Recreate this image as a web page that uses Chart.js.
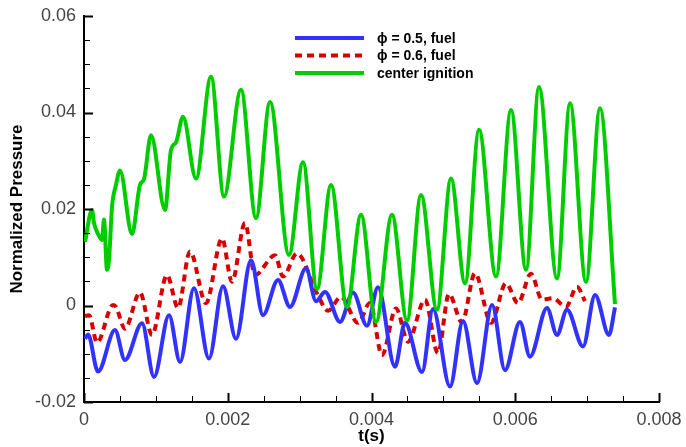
<!DOCTYPE html>
<html lang="en">
<head>
<meta charset="UTF-8">
<title>Normalized Pressure</title>
<style>
  html, body { margin: 0; padding: 0; background: #fff; }
  canvas { display: block; }
</style>
</head>
<body>
<canvas id="pressureChart" width="686" height="447"></canvas>
<script src="https://cdn.jsdelivr.net/npm/chart.js@4.4.1/dist/chart.umd.min.js"></script>
<script>
// phi = 0.5, fuel : time (s) / normalized pressure
const tLean = [0.000014, 0.000056, 0.000195, 0.000431, 0.00057, 0.000807, 0.000974, 0.001183, 0.001336, 0.00153,
  0.001739, 0.001934, 0.002115, 0.002324, 0.00249, 0.002699, 0.002866, 0.003089, 0.003228, 0.003353,
  0.003562, 0.003743, 0.003937, 0.00409, 0.004327, 0.004466, 0.004703, 0.004856, 0.005092, 0.005273,
  0.005468, 0.005677, 0.005857, 0.006066, 0.006205, 0.006442, 0.006581, 0.00672, 0.006943, 0.00711,
  0.007304, 0.007388];
const pLean = [-0.0069, -0.006, -0.0137, -0.0051, -0.0113, -0.0037, -0.0148, -0.002, -0.0117, 0.0036,
  -0.011, 0.004, -0.0069, 0.0094, -0.002, 0.0053, -0.0003, 0.0077, 0.0009, 0.0028,
  -0.0034, 0.0027, -0.0042, 0.0038, -0.0127, -0.0036, -0.0138, -0.0007, -0.0168, -0.0032,
  -0.0161, 0.0001, -0.0134, -0.0034, -0.0106, -0.0005, -0.0061, -0.0009, -0.0085, 0.0022,
  -0.0061, -0.0004];

// phi = 0.6, fuel
const tRich = [0.000014, 0.00007, 0.000181, 0.000404, 0.000445, 0.00057, 0.000779, 0.000946, 0.001155, 0.001308,
  0.001475, 0.001697, 0.00192, 0.002059, 0.00224, 0.002379, 0.002657, 0.002769, 0.002963, 0.003242,
  0.003395, 0.003576, 0.003812, 0.003979, 0.004146, 0.004341, 0.004508, 0.004744, 0.004925, 0.005078,
  0.005259, 0.00544, 0.005663, 0.005871, 0.006038, 0.006219, 0.006372, 0.006525, 0.006706, 0.006859,
  0.00697];
const pRich = [-0.0022, -0.002, -0.0077, 0.0001, -0.0003, -0.0048, 0.0027, -0.0061, 0.0063, -0.0005,
  0.0112, 0.0005, 0.0139, 0.0049, 0.0171, 0.0063, 0.0104, 0.006, 0.0108, 0.0025,
  -0.0011, 0.0018, -0.0036, 0.0005, -0.0103, -0.0006, -0.0075, 0.0012, -0.0099, 0.0024,
  -0.0035, 0.0067, -0.0036, 0.0046, 0.0005, 0.0066, 0.0012, 0.0015, -0.0003, 0.0039,
  0.0009];

// center ignition
const tCenter = [0.000014, 0.000111, 0.000139, 0.000181, 0.00025, 0.000278, 0.00032, 0.000348, 0.00039, 0.000445,
  0.000501, 0.000668, 0.000779, 0.000835, 0.000932, 0.001127, 0.00121, 0.00128, 0.001377, 0.001558,
  0.001767, 0.001948, 0.002184, 0.002393, 0.002588, 0.002852, 0.003047, 0.003242, 0.003437, 0.003659,
  0.003854, 0.004063, 0.004285, 0.004494, 0.004689, 0.004911, 0.005106, 0.005301, 0.005496, 0.005732,
  0.005941, 0.00615, 0.00633, 0.006581, 0.006762, 0.006984, 0.007179, 0.007388];
const pCenter = [0.0132, 0.0198, 0.0171, 0.0153, 0.0136, 0.0178, 0.0074, 0.0095, 0.0205, 0.025,
  0.028, 0.0148, 0.025, 0.0262, 0.0353, 0.0198, 0.0322, 0.0338, 0.0391, 0.0263,
  0.0474, 0.0226, 0.0447, 0.0181, 0.0422, 0.0105, 0.0297, 0.0034, 0.025, -0.0003,
  0.0188, -0.0034, 0.0188, -0.0031, 0.0229, -0.0009, 0.0263, 0.0046, 0.0364, 0.006,
  0.0405, 0.0074, 0.0453, 0.0056, 0.0419, 0.0049, 0.0409, 0.0003];

const seriesNames = ['\u03d5 = 0.5, fuel', '\u03d5 = 0.6, fuel', 'center ignition'];
const xTicks = [0, 0.002, 0.004, 0.006, 0.008];
const xTickLabels = ['0', '0.002', '0.004', '0.006', '0.008'];
const yTicks = [-0.02, 0, 0.02, 0.04, 0.06];
const yTickLabels = ['-0.02', '0', '0.02', '0.04', '0.06'];

const toPoints = (ts, ps) => ts.map((t, i) => ({ x: t, y: ps[i] }));

const FONT = '"Liberation Sans", Arial, Helvetica, sans-serif';

// small inward tick marks on both axes, major + minor
const innerTicks = {
  id: 'innerTicks',
  afterDraw(chart) {
    const { ctx, chartArea: a, scales: { x, y } } = chart;
    ctx.save();
    ctx.strokeStyle = '#000';
    for (let k = 0; k <= 16; k++) {
      const major = k % 4 === 0;
      const px = Math.round(x.getPixelForValue(k * 0.0005)) + 0.5;
      ctx.lineWidth = major ? 2 : 1;
      ctx.beginPath();
      ctx.moveTo(px, a.bottom);
      ctx.lineTo(px, a.bottom - (major ? 9 : 6));
      ctx.stroke();
    }
    for (let k = 0; k <= 16; k++) {
      const major = k % 4 === 0;
      const py = Math.round(y.getPixelForValue(-0.02 + k * 0.005)) + 0.5;
      ctx.lineWidth = major ? 2 : 1;
      ctx.beginPath();
      ctx.moveTo(a.left, py);
      ctx.lineTo(a.left + (major ? 9 : 6), py);
      ctx.stroke();
    }
    ctx.restore();
  }
};

// legend box sitting inside the plot, top middle
const inlineLegend = {
  id: 'inlineLegend',
  afterDatasetsDraw(chart) {
    const ctx = chart.ctx;
    ctx.save();
    chart.data.datasets.forEach((ds, i) => {
      const ly = 38 + i * 17.5;
      ctx.strokeStyle = ds.borderColor;
      ctx.lineWidth = 4;
      ctx.lineCap = 'butt';
      ctx.setLineDash(ds.borderDash || []);
      ctx.beginPath();
      ctx.moveTo(295, ly);
      ctx.lineTo(364, ly);
      ctx.stroke();
      ctx.setLineDash([]);
      ctx.fillStyle = '#000';
      ctx.font = 'bold 14px ' + FONT;
      ctx.textBaseline = 'middle';
      ctx.textAlign = 'left';
      ctx.fillText(ds.label, 377, ly + 1);
    });
    ctx.restore();
  }
};

new Chart(document.getElementById('pressureChart'), {
  type: 'line',
  data: {
    datasets: [
      {
        label: seriesNames[0],
        data: toPoints(tLean, pLean),
        borderColor: 'rgb(50, 50, 255)',
        borderWidth: 4,
        order: 2
      },
      {
        label: seriesNames[1],
        data: toPoints(tRich, pRich),
        borderColor: 'rgb(215, 0, 0)',
        borderWidth: 4,
        borderDash: [7, 5],
        order: 3
      },
      {
        label: seriesNames[2],
        data: toPoints(tCenter, pCenter),
        borderColor: 'rgb(0, 204, 0)',
        borderWidth: 4,
        order: 1
      }
    ]
  },
  options: {
    responsive: false,
    animation: false,
    devicePixelRatio: 1,
    events: [],
    elements: {
      point: { radius: 0 },
      line: { cubicInterpolationMode: 'monotone', fill: false }
    },
    layout: { padding: { left: 0, right: 27, top: 16, bottom: 0 } },
    plugins: {
      legend: { display: false },
      tooltip: { enabled: false }
    },
    scales: {
      x: {
        type: 'linear',
        min: 0,
        max: 0.008,
        afterBuildTicks: s => { s.ticks = xTicks.map(v => ({ value: v })); },
        afterFit: s => { s.height = 45; s.paddingLeft = 0; s.paddingRight = 0; },
        grid: { display: false, drawTicks: false },
        border: { display: true, color: '#000', width: 2 },
        ticks: {
          padding: 7,
          color: '#444',
          maxRotation: 0,
          autoSkip: false,
          font: { family: FONT, size: 18 },
          callback: (v, i) => xTickLabels[i]
        },
        title: {
          display: true,
          text: 't(s)',
          color: '#000',
          font: { family: FONT, size: 17, weight: 'bold' },
          padding: { top: 0, bottom: 0 }
        }
      },
      y: {
        min: -0.02,
        max: 0.06,
        afterBuildTicks: s => { s.ticks = yTicks.map(v => ({ value: v })); },
        afterFit: s => { s.width = 84; s.paddingTop = 0; s.paddingBottom = 0; },
        grid: { display: false, drawTicks: false },
        border: { display: true, color: '#000', width: 2 },
        ticks: {
          padding: 8,
          color: '#444',
          autoSkip: false,
          font: { family: FONT, size: 18 },
          callback: (v, i) => yTickLabels[i]
        },
        title: {
          display: true,
          text: 'Normalized Pressure',
          color: '#000',
          font: { family: FONT, size: 17, weight: 'bold' },
          padding: { top: 7, bottom: 0 }
        }
      }
    }
  },
  plugins: [innerTicks, inlineLegend]
});
</script>
</body>
</html>
